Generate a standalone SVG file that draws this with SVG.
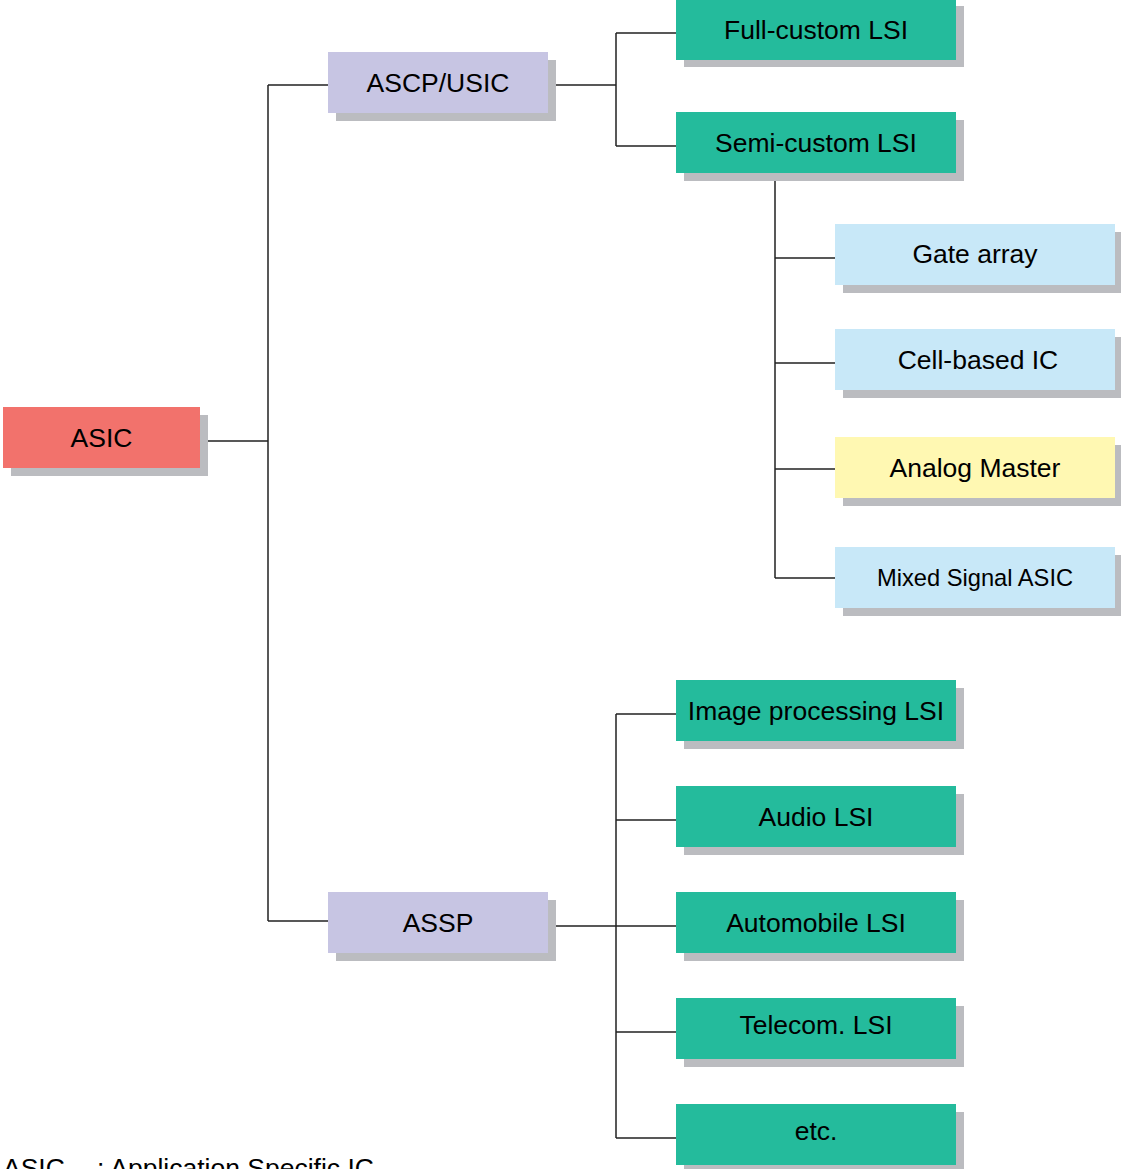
<svg xmlns="http://www.w3.org/2000/svg" width="1121" height="1169" viewBox="0 0 1121 1169">
<style>
.sh{fill:#BBBCC0}
.red{fill:#F2726C}
.lav{fill:#C7C5E3}
.grn{fill:#24BB9C}
.blu{fill:#C8E8F8}
.yel{fill:#FFF8B2}
text{font-family:"Liberation Sans",Arial,sans-serif;font-size:26.5px;fill:#000;text-anchor:middle}
.sm{font-size:23.7px}
.cn{fill:none;stroke:#222;stroke-width:1.5}
</style>
<g id="connectors" class="cn">
<path d="M208,441H268M268,85V921M268,85H328M268,921H328"/>
<path d="M556,85H616M616,33V146M616,33H676M616,146H676"/>
<path d="M775,181V578M775,258H835M775,363H835M775,469H835M775,578H835"/>
<path d="M556,926H676M616,714V1138M616,714H676M616,820H676M616,1032H676M616,1138H676"/>
</g>
<g id="asic"><rect class="sh" x="11" y="415" width="197" height="61"/><rect class="red" x="3" y="407" width="197" height="61"/><text x="101.5" y="446.7">ASIC</text></g>
<g id="ascp"><rect class="sh" x="336" y="60" width="220" height="61"/><rect class="lav" x="328" y="52" width="220" height="61"/><text x="438" y="91.5">ASCP/USIC</text></g>
<g id="assp"><rect class="sh" x="336" y="900" width="220" height="61"/><rect class="lav" x="328" y="892" width="220" height="61"/><text x="438" y="931.5">ASSP</text></g>
<g id="fullcustom"><rect class="sh" x="684" y="6" width="280" height="61"/><rect class="grn" x="676" y="-1" width="280" height="61"/><text x="816" y="38.7">Full-custom LSI</text></g>
<g id="semicustom"><rect class="sh" x="684" y="120" width="280" height="61"/><rect class="grn" x="676" y="112" width="280" height="61"/><text x="816" y="151.5">Semi-custom LSI</text></g>
<g id="gatearray"><rect class="sh" x="843" y="232" width="280" height="61"/><rect class="blu" x="835" y="224" width="280" height="61"/><text x="975" y="263">Gate array</text></g>
<g id="cellbased"><rect class="sh" x="843" y="337" width="280" height="61"/><rect class="blu" x="835" y="329" width="280" height="61"/><text x="978" y="368.5">Cell-based IC</text></g>
<g id="analog"><rect class="sh" x="843" y="445" width="280" height="61"/><rect class="yel" x="835" y="437" width="280" height="61"/><text x="975" y="476.5">Analog Master</text></g>
<g id="mixed"><rect class="sh" x="843" y="555" width="280" height="61"/><rect class="blu" x="835" y="547" width="280" height="61"/><text class="sm" x="975" y="586">Mixed Signal ASIC</text></g>
<g id="image"><rect class="sh" x="684" y="688" width="280" height="61"/><rect class="grn" x="676" y="680" width="280" height="61"/><text x="816" y="719.5">Image processing LSI</text></g>
<g id="audio"><rect class="sh" x="684" y="794" width="280" height="61"/><rect class="grn" x="676" y="786" width="280" height="61"/><text x="816" y="825.5">Audio LSI</text></g>
<g id="automobile"><rect class="sh" x="684" y="900" width="280" height="61"/><rect class="grn" x="676" y="892" width="280" height="61"/><text x="816" y="931.5">Automobile LSI</text></g>
<g id="telecom"><rect class="sh" x="684" y="1006" width="280" height="61"/><rect class="grn" x="676" y="998" width="280" height="61"/><text x="816" y="1033.5">Telecom. LSI</text></g>
<g id="etc"><rect class="sh" x="684" y="1112" width="280" height="61"/><rect class="grn" x="676" y="1104" width="280" height="61"/><text x="816" y="1139.5">etc.</text></g>
<g id="legend"><text style="text-anchor:start" y="1176.6"><tspan x="3">ASIC</tspan><tspan x="97">: Application Specific IC</tspan></text></g>
</svg>
